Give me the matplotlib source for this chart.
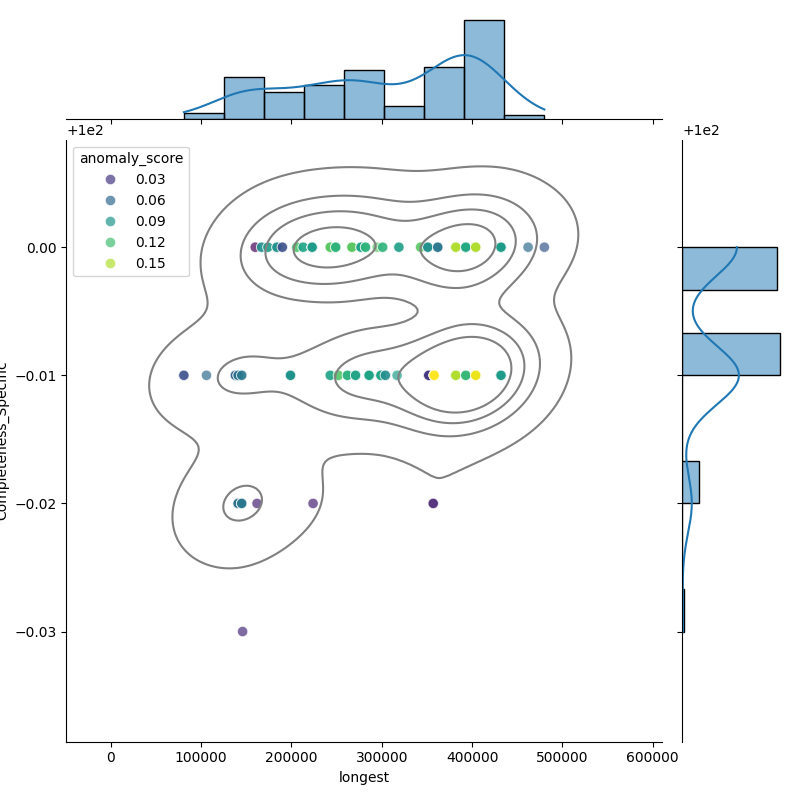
import numpy as np
import pandas as pd
import seaborn as sns
import matplotlib.pyplot as plt

# distinct spots seen in the chart; n_points = how many records sit on each spot
longest = [160000, 167000, 174000, 184000, 190000, 206000, 213000, 223000, 243000, 249000,
           267000, 277000, 282000, 295000, 301000, 319000, 343000, 351000, 362000, 382000,
           393000, 404000, 432000, 462000, 480000,
           81000, 106000, 138000, 141000, 145000, 199000, 243000, 252000, 262000, 271000,
           286000, 299000, 304000, 317000, 352000, 358000, 382000, 393000, 404000, 432000,
           141000, 145000, 162000, 224000, 357000,
           146000]
completeness = [100.00] * 25 + [99.99] * 20 + [99.98] * 5 + [99.97]
anomaly = [0.004, 0.087, 0.095, 0.088, 0.045, 0.125, 0.100, 0.095, 0.128, 0.112,
           0.128, 0.100, 0.112, 0.128, 0.112, 0.097, 0.128, 0.087, 0.070, 0.150,
           0.105, 0.150, 0.095, 0.062, 0.050,
           0.045, 0.062, 0.055, 0.065, 0.070, 0.090, 0.100, 0.125, 0.110, 0.100,
           0.100, 0.100, 0.085, 0.097, 0.030, 0.170, 0.150, 0.115, 0.165, 0.095,
           0.065, 0.070, 0.020, 0.020, 0.020,
           0.025]
n_points = [1, 2, 2, 3, 2, 2, 2, 6, 4, 4,
            4, 4, 3, 1, 2, 2, 2, 3, 3, 5,
            8, 8, 6, 1, 1,
            2, 1, 3, 3, 2, 4, 2, 2, 3, 3,
            4, 3, 2, 1, 4, 6, 6, 12, 14, 7,
            5, 5, 1, 1, 2,
            1]

df = pd.DataFrame({
    "longest": np.repeat(longest, n_points),
    "Completeness_Specific": np.repeat(completeness, n_points),
    "anomaly_score": np.repeat(anomaly, n_points),
})

g = sns.JointGrid(data=df, x="longest", y="Completeness_Specific", height=8)
g.plot_joint(sns.scatterplot, hue=df["anomaly_score"], palette="viridis", alpha=0.7, s=55)
g.plot_joint(sns.kdeplot, color="gray", levels=5)
g.plot_marginals(sns.histplot, kde=True, bins=9)
g.ax_joint.set_xlim(-49000, 610000)
g.ax_joint.set_ylim(99.9614, 100.0084)

plt.savefig("out.png")
